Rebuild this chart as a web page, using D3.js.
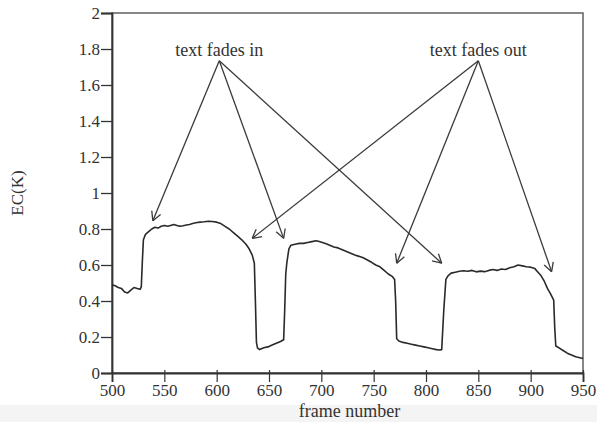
<!DOCTYPE html>
<html><head><meta charset="utf-8">
<script src="https://cdn.jsdelivr.net/npm/d3@7"></script>
<style>
html,body{margin:0;padding:0;background:#fff;}
svg{display:block;}
text{font-family:"Liberation Serif","Times New Roman",serif;fill:#333;}
</style></head>
<body>
<svg id="chart" width="597" height="422"></svg>
<script>
// ---- data ----
const frames = [500,503,506,509,512,515,518,521,524,527,528,529,530,532,535,538,541,544,547,550,553,556,559,562,565,568,571,574,577,580,584,588,592,596,600,604,608,612,616,620,624,628,631,634,636,637,638,639,641,645,649,653,657,661,664,665,666,667,669,671,675,679,683,687,691,695,698,701,704,708,712,716,720,724,728,732,736,740,744,748,752,756,760,764,768,770,771,772,774,778,782,786,790,794,798,802,806,810,813,815,817,819,821,824,828,832,836,840,844,848,852,856,860,864,868,872,876,880,884,888,892,896,900,904,907,910,913,916,919,922,923,924,927,931,935,939,943,947,950];
const ecValues = [0.49,0.485,0.475,0.47,0.45,0.445,0.46,0.475,0.47,0.465,0.48,0.62,0.74,0.77,0.785,0.80,0.81,0.805,0.815,0.82,0.815,0.82,0.825,0.82,0.815,0.818,0.822,0.825,0.83,0.835,0.838,0.84,0.843,0.842,0.838,0.83,0.815,0.80,0.78,0.76,0.74,0.715,0.69,0.655,0.61,0.40,0.17,0.14,0.13,0.14,0.145,0.155,0.165,0.175,0.185,0.35,0.55,0.61,0.69,0.71,0.715,0.72,0.72,0.725,0.73,0.735,0.73,0.725,0.72,0.71,0.70,0.695,0.685,0.675,0.665,0.655,0.648,0.64,0.628,0.615,0.60,0.59,0.57,0.55,0.535,0.52,0.40,0.19,0.178,0.17,0.165,0.16,0.155,0.15,0.145,0.14,0.135,0.13,0.128,0.13,0.35,0.52,0.54,0.555,0.56,0.565,0.568,0.565,0.57,0.562,0.566,0.563,0.57,0.575,0.57,0.578,0.575,0.585,0.59,0.60,0.595,0.59,0.588,0.58,0.56,0.54,0.51,0.47,0.44,0.405,0.25,0.15,0.14,0.125,0.11,0.10,0.09,0.085,0.08];
const xTicks = [500,550,600,650,700,750,800,850,900,950];
const yTicks = [0,0.2,0.4,0.6,0.8,1,1.2,1.4,1.6,1.8,2];
const annotationLabels = ["text fades in","text fades out"];
const annotationApex = [[602.5,1.735],[850,1.735]];
const arrowTargetsIn = [[539,0.846],[664,0.748],[815,0.61]];
const arrowTargetsOut = [[634,0.748],[772,0.61],[920,0.563]];
const xLabel = "frame number";
const yLabel = "EC(K)";

// ---- layout ----
const L = 112, T = 13, R = 583, B = 373;
const svg = d3.select("#chart");
const x = d3.scaleLinear().domain([500,950]).range([L,R]);
const y = d3.scaleLinear().domain([0,2]).range([B,T]);
const ink = "#333";

// faint scan band at bottom
svg.append("rect").attr("x",0).attr("y",405).attr("width",597).attr("height",17).attr("fill","#f4f4f4");

// frame
svg.append("rect").attr("x",L).attr("y",T).attr("width",R-L).attr("height",B-T)
  .attr("fill","none").attr("stroke","#555").attr("stroke-width",1.4);

// axes
const ya = svg.append("g").attr("transform",`translate(${L},0)`)
  .call(d3.axisLeft(y).tickValues(yTicks).tickSize(11).tickPadding(1).tickFormat(d3.format("~g")));
ya.select(".domain").attr("stroke",ink).attr("stroke-width",1.8);
ya.selectAll(".tick line").attr("stroke",ink).attr("stroke-width",1.3);
ya.selectAll("text").attr("font-size",17).style("fill",ink).attr("font-family","Liberation Serif");

const xa = svg.append("g").attr("transform",`translate(0,${B})`)
  .call(d3.axisBottom(x).tickValues(xTicks).tickSize(9).tickPadding(2).tickFormat(d3.format("d")));
xa.select(".domain").attr("stroke",ink).attr("stroke-width",1.8);
xa.selectAll(".tick line").attr("y1",-3).attr("stroke",ink).attr("stroke-width",1.2);
xa.selectAll("text").attr("font-size",17).style("fill",ink).attr("font-family","Liberation Serif");

// axis titles
svg.append("text").attr("x",(L+R)/2 + 2).attr("y",417).attr("text-anchor","middle")
  .attr("font-size",18).text(xLabel);
svg.append("text").attr("transform",`translate(23,${(T+B)/2}) rotate(-90)`)
  .attr("text-anchor","middle").attr("font-size",17).text(yLabel);

// data line
const pts = frames.map((f,i)=>[f,ecValues[i]]);
svg.append("path").datum(pts)
  .attr("fill","none").attr("stroke","#2a2a2a").attr("stroke-width",1.6).attr("stroke-linejoin","round")
  .attr("d", d3.line().x(d=>x(d[0])).y(d=>y(d[1])));

// annotations
const ann = svg.append("g").attr("stroke","#3a3a3a").attr("stroke-width",1.3).attr("fill","none");
function arrow(a, t){
  const x0=x(a[0]), y0=y(a[1]), x1=x(t[0]), y1=y(t[1]);
  ann.append("line").attr("x1",x0).attr("y1",y0).attr("x2",x1).attr("y2",y1);
  const ang = Math.atan2(y1-y0, x1-x0), len = 10, spread = 0.5;
  [ -spread, spread ].forEach(s=>{
    ann.append("line").attr("x1",x1).attr("y1",y1)
      .attr("x2",x1 - len*Math.cos(ang+s)).attr("y2",y1 - len*Math.sin(ang+s));
  });
}
arrowTargetsIn.forEach(t=>arrow(annotationApex[0],t));
arrowTargetsOut.forEach(t=>arrow(annotationApex[1],t));
annotationLabels.forEach((lab,i)=>{
  svg.append("text").attr("x",x(annotationApex[i][0])).attr("y",y(annotationApex[i][1])-5)
    .attr("text-anchor","middle").attr("font-size",18).text(lab);
});
</script>
</body></html>
